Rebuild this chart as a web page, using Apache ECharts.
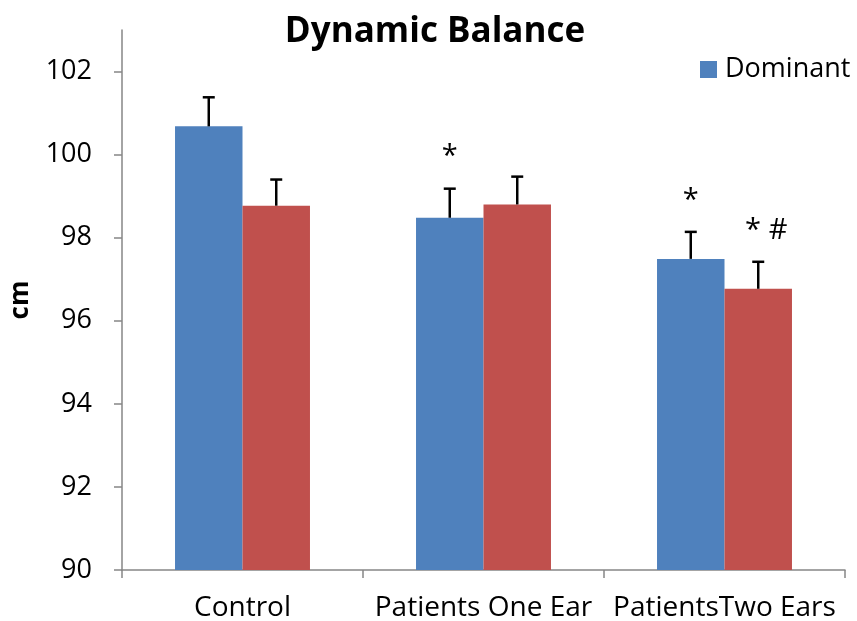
<!DOCTYPE html>
<html>
<head>
<meta charset="utf-8">
<script src="https://cdn.jsdelivr.net/npm/echarts@6/dist/echarts.min.js"></script>
<style>html,body{margin:0;padding:0;background:#fff}#c{width:857px;height:621px}</style>
</head>
<body>
<div id="c"></div>
<script>
var categories = ['Control', 'Patients One Ear', 'PatientsTwo Ears'];
var dominant = [100.68, 98.48, 97.49];
var nonDominant = [98.77, 98.80, 96.77];
var dominantErr = [0.70, 0.70, 0.65];
var nonDominantErr = [0.63, 0.67, 0.65];
var dominantMarks = ['', '*', '*'];
var nonDominantMarks = ['', '', '* #'];
var yTicks = [90, 92, 94, 96, 98, 100, 102];

var FONT = '"Open Sans", "Noto Sans", sans-serif';
var GAP = 0.44;

function errData(vals, errs, marks) {
  return vals.map(function (v, i) { return [i, v, errs[i], marks[i]]; });
}

function makeErr(side) {
  return function (params, api) {
    var idx = api.value(0);
    var v = api.value(1);
    var e = api.value(2);
    var mark = api.value(3);
    var catW = api.size([1, 0])[0];
    var bw = catW * (1 - GAP) / 2;
    var base = api.coord([idx, v]);
    var top = api.coord([idx, v + e]);
    var x = base[0] + side * bw / 2;
    var children = [
      { type: 'line', shape: { x1: x, y1: base[1], x2: x, y2: top[1] }, style: { stroke: '#000', lineWidth: 2.5 } },
      { type: 'line', shape: { x1: x - 6, y1: top[1], x2: x + 6, y2: top[1] }, style: { stroke: '#000', lineWidth: 2.5 } }
    ];
    if (mark) {
      children.push({
        type: 'text',
        style: {
          text: mark, x: x + (mark.length > 1 ? 8 : 0), y: top[1] - 17,
          align: 'center', verticalAlign: 'bottom',
          font: '29px ' + FONT, fill: '#000'
        }
      });
    }
    return { type: 'group', children: children };
  };
}

var chart = echarts.init(document.getElementById('c'));
chart.setOption({
  animation: false,
  title: {
    text: 'Dynamic Balance', left: 430, top: 10, textAlign: 'center',
    textStyle: { fontFamily: FONT, fontWeight: 'bold', fontSize: 35, color: '#000' }
  },
  legend: {
    data: ['Dominant'], left: 695, top: 51, itemWidth: 17, itemHeight: 17, icon: 'rect', itemGap: 8,
    textStyle: { fontFamily: FONT, fontSize: 27, color: '#000', padding: [0, 0, 0, 3] }
  },
  grid: { left: 122, right: 12, top: 30, bottom: 51, outerBoundsMode: 'none', containLabel: false },
  xAxis: {
    type: 'category', data: categories,
    axisLine: { lineStyle: { color: '#868686', width: 1.5 } },
    axisTick: { show: true, length: 8, lineStyle: { color: '#868686', width: 1.5 } },
    axisLabel: { fontFamily: FONT, fontSize: 28, color: '#000', margin: 24, interval: 0 }
  },
  yAxis: {
    type: 'value', min: 90, max: 103, interval: 1,
    name: 'cm', nameLocation: 'middle', nameGap: 88, nameRotate: 90,
    nameTextStyle: { fontFamily: FONT, fontSize: 26, fontWeight: 'bold', color: '#000' },
    axisLine: { show: true, lineStyle: { color: '#868686', width: 1.5 } },
    axisTick: { show: true, length: 8, customValues: yTicks, lineStyle: { color: '#868686', width: 1.5 } },
    axisLabel: { fontFamily: FONT, fontSize: 27, color: '#000', margin: 30, customValues: yTicks },
    splitLine: { show: false }
  },
  series: [
    { name: 'Dominant', type: 'bar', data: dominant, barGap: '0%', barCategoryGap: (GAP * 100) + '%',
      itemStyle: { color: '#4F81BD' } },
    { name: 'Non-dominant', type: 'bar', data: nonDominant,
      itemStyle: { color: '#C0504D' } },
    { type: 'custom', renderItem: makeErr(-1), data: errData(dominant, dominantErr, dominantMarks),
      encode: { x: 0, y: 1 }, z: 5, silent: true },
    { type: 'custom', renderItem: makeErr(1), data: errData(nonDominant, nonDominantErr, nonDominantMarks),
      encode: { x: 0, y: 1 }, z: 5, silent: true }
  ]
});
</script>
</body>
</html>
